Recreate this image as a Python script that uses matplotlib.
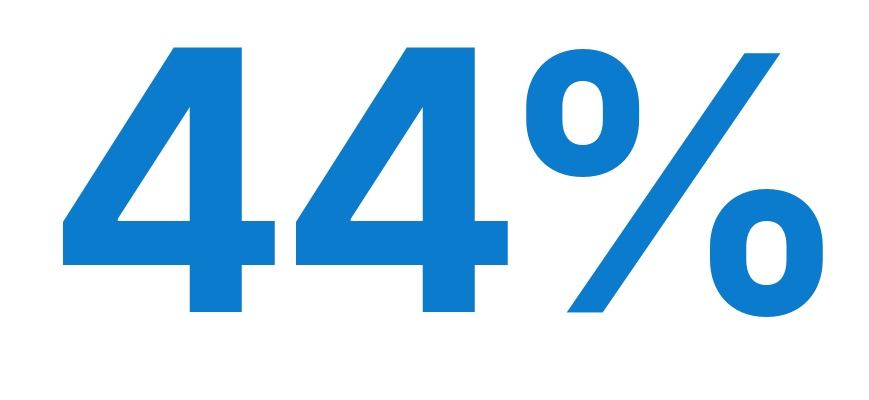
import matplotlib.pyplot as plt

# Single stat value shown in the reference
value = 44
suffix = '%'

fig = plt.figure(figsize=(8.7, 4), dpi=100)
fig.patch.set_facecolor('white')

chars = list(f'{value}{suffix}')
# tight letter spacing (pixels pulled in before each character)
track = [0, 13, 30]
sizes = [262, 262, 256]
style = dict(fontweight='bold', family=['Inter', 'DejaVu Sans'],
             color='#0b7bcd', va='baseline', ha='left')

renderer = fig.canvas.get_renderer()
texts = [fig.text(0, 0.22, c, fontsize=s, **style) for c, s in zip(chars, sizes)]
widths = [t.get_window_extent(renderer).width for t in texts]
total = sum(widths) - sum(track)
x = (fig.bbox.width - total) / 2 + 15
for t, w, tr in zip(texts, widths, track):
    x -= tr
    t.set_x(x / fig.bbox.width)
    x += w

fig.savefig('out.png', dpi=100, facecolor='white')
